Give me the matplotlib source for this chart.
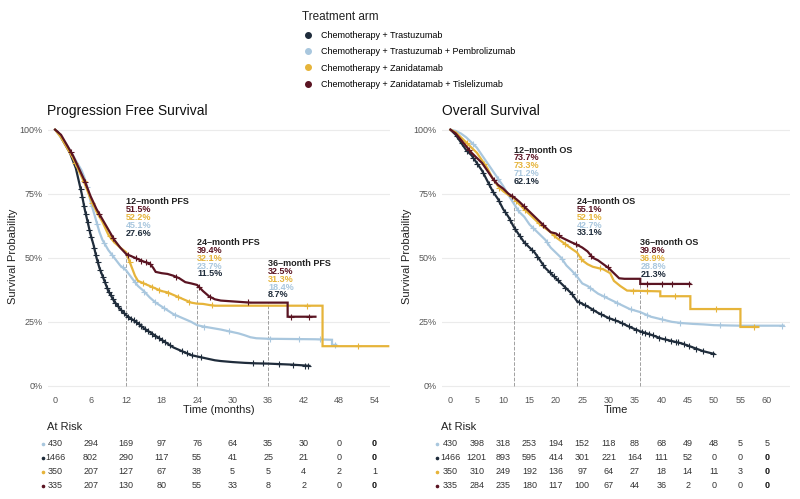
import matplotlib
matplotlib.use("Agg")
import matplotlib.pyplot as plt
from matplotlib.lines import Line2D
from matplotlib.transforms import blended_transform_factory
import numpy as np

plt.rcParams['font.family'] = ['Liberation Sans', 'DejaVu Sans']

# arm names and colours (legend order)
arms = ['Chemotherapy + Trastuzumab',
        'Chemotherapy + Trastuzumab + Pembrolizumab',
        'Chemotherapy + Zanidatamab',
        'Chemotherapy + Zanidatamab + Tislelizumab']
colors = ['#1f2c3b', '#a9c7de', '#e6b43a', '#5a1422']

# ---- PFS curves (months, survival) ----
# repeated times mark a vertical drop after a plateau
pfs_t_tras = [0, 0.5, 1, 1.5, 2, 2.5, 3, 3.5, 4, 4.5, 5, 5.5, 6, 6.5, 7, 7.5, 8, 8.5, 9, 10, 11, 12, 13, 14, 15,
              16, 17, 18, 19, 20, 21, 22, 23, 24, 25, 26, 27, 28, 30, 32, 34, 36, 38, 40, 42, 43]
pfs_s_tras = [1.0, 0.99, 0.97, 0.95, 0.93, 0.91, 0.88, 0.85, 0.80, 0.75, 0.69, 0.64, 0.59, 0.55, 0.50, 0.46, 0.43,
              0.40, 0.37, 0.33, 0.30, 0.276, 0.26, 0.245, 0.225, 0.21, 0.195, 0.18, 0.165, 0.15, 0.14, 0.13, 0.12,
              0.115, 0.11, 0.105, 0.10, 0.097, 0.093, 0.09, 0.088, 0.087, 0.085, 0.083, 0.08, 0.078]
pfs_t_pem = [0, 1, 2, 3, 4, 4.5, 5, 5.5, 6, 6.5, 7, 7.5, 8, 9, 10, 11, 12, 13, 14, 15, 16, 17, 18, 19, 20, 21, 22,
             23, 24, 25, 26, 27, 28, 29, 30, 31, 32, 33, 34, 36, 40, 44, 46.8, 46.8, 47.5]
pfs_s_pem = [1, 0.97, 0.94, 0.90, 0.86, 0.84, 0.81, 0.77, 0.72, 0.68, 0.64, 0.60, 0.57, 0.53, 0.50, 0.47, 0.451,
             0.42, 0.39, 0.37, 0.345, 0.325, 0.31, 0.295, 0.28, 0.27, 0.26, 0.25, 0.237, 0.232, 0.228, 0.224, 0.22,
             0.215, 0.21, 0.205, 0.198, 0.19, 0.186, 0.184, 0.183, 0.182, 0.18, 0.16, 0.16]
pfs_t_zan = [0, 1, 2, 3, 4, 5, 6, 7, 8, 9, 10, 11, 12, 12.5, 13, 13.5, 14, 15, 16, 17, 18, 19, 20, 21, 22, 23, 24,
             25, 26, 27, 45.2, 45.2, 56.3]
pfs_s_zan = [1, 0.97, 0.93, 0.89, 0.84, 0.79, 0.73, 0.68, 0.64, 0.59, 0.56, 0.54, 0.522, 0.49, 0.46, 0.43, 0.41,
             0.40, 0.39, 0.38, 0.37, 0.365, 0.355, 0.345, 0.335, 0.325, 0.321, 0.32, 0.316, 0.313, 0.313, 0.155,
             0.155]
pfs_t_tis = [0, 1, 2, 3, 4, 5, 6, 7, 8, 9, 10, 11, 12, 13, 14, 15, 16, 16.6, 17, 18, 19, 20, 21, 22, 23, 24, 25,
             26, 27, 28, 33, 39.3, 39.3, 44]
pfs_s_tis = [1, 0.98, 0.94, 0.90, 0.85, 0.80, 0.74, 0.69, 0.65, 0.61, 0.57, 0.54, 0.515, 0.505, 0.495, 0.485,
             0.478, 0.46, 0.445, 0.44, 0.437, 0.43, 0.42, 0.405, 0.40, 0.394, 0.37, 0.35, 0.338, 0.333, 0.325,
             0.325, 0.27, 0.27]

# ---- OS curves ----
os_t_tras = [0, 1, 2, 3, 4, 5, 6, 7, 8, 9, 10, 11, 12, 13, 14, 15, 16, 17, 18, 19, 20, 21, 22, 23, 24, 26, 28, 30,
             32, 34, 36, 38, 40, 42, 44, 46, 48, 50]
os_s_tras = [1, 0.98, 0.95, 0.92, 0.90, 0.87, 0.84, 0.80, 0.76, 0.73, 0.69, 0.66, 0.621, 0.59, 0.56, 0.54, 0.52,
             0.49, 0.46, 0.44, 0.42, 0.40, 0.38, 0.36, 0.331, 0.31, 0.285, 0.265, 0.25, 0.23, 0.213, 0.20, 0.185,
             0.175, 0.165, 0.15, 0.135, 0.125]
os_t_pem = [0, 1, 2, 3, 4, 5, 6, 7, 8, 9, 10, 11, 12, 13, 14, 15, 16, 17, 18, 19, 20, 21, 22, 23, 24, 25, 26, 27,
            28, 30, 32, 34, 36, 38, 40, 42, 44, 46, 48, 50, 55, 63.2]
os_s_pem = [1, 0.995, 0.985, 0.97, 0.95, 0.93, 0.90, 0.87, 0.84, 0.81, 0.78, 0.745, 0.712, 0.68, 0.66, 0.63, 0.61,
            0.59, 0.57, 0.54, 0.52, 0.50, 0.47, 0.45, 0.427, 0.40, 0.39, 0.375, 0.36, 0.34, 0.32, 0.30, 0.288, 0.27,
            0.26, 0.25, 0.245, 0.242, 0.24, 0.237, 0.235, 0.235]
os_t_zan = [0, 1, 2, 3, 4, 5, 6, 7, 8, 9, 10, 11, 12, 13, 14, 15, 16, 17, 18, 19, 20, 21, 22, 23, 24, 25, 26, 27,
            28, 29, 30.3, 31, 32.2, 33.5, 39.8, 39.8, 45.5, 45.5, 55, 55, 58.4]
os_s_zan = [1, 0.99, 0.97, 0.95, 0.93, 0.91, 0.88, 0.85, 0.81, 0.78, 0.76, 0.745, 0.733, 0.71, 0.69, 0.67, 0.65,
            0.63, 0.615, 0.60, 0.58, 0.565, 0.55, 0.535, 0.521, 0.49, 0.475, 0.465, 0.46, 0.455, 0.44, 0.41, 0.39,
            0.372, 0.369, 0.35, 0.35, 0.30, 0.30, 0.23, 0.23]
os_t_tis = [0, 1, 2, 3, 4, 5, 6, 7, 8, 9, 10, 11, 12, 13, 14, 15, 16, 17, 18, 19, 20, 21, 22, 23, 24, 25, 26, 27,
            28, 29, 30, 31, 32, 33, 36, 36, 45.5]
os_s_tis = [1, 0.985, 0.96, 0.935, 0.91, 0.89, 0.87, 0.84, 0.81, 0.785, 0.77, 0.75, 0.737, 0.72, 0.70, 0.68, 0.66,
            0.64, 0.62, 0.60, 0.595, 0.58, 0.57, 0.56, 0.551, 0.54, 0.525, 0.50, 0.49, 0.475, 0.46, 0.44, 0.42,
            0.418, 0.418, 0.398, 0.398]

# censoring marks (months)
pfs_cens = [
    [4.3, 4.6, 4.9, 5.2, 5.5, 5.8, 6.1, 6.6, 6.9, 7.2, 7.6, 8.1, 8.4, 8.8, 9.1, 9.4, 9.8, 10.2, 10.6, 11.1, 11.6,
     12.4, 12.9, 13.3, 13.7, 14.1, 14.6, 15.2, 15.7, 16.4, 16.9, 17.5, 18.1, 18.6, 19.4, 21.4, 22.3, 23.1, 24.6,
     33.5, 35.1, 37.9, 40.2, 42.3, 42.8],
    [5.4, 6.2, 7.1, 8.3, 9.6, 11.4, 13.5, 15.1, 16.8, 18.4, 20.2, 25.1, 29.4, 36.4, 41.2, 44.8, 47.3],
    [3.4, 4.8, 6.3, 9.2, 12.6, 14.8, 16.3, 17.6, 19.1, 20.8, 22.7, 26.5, 42.6, 51.2],
    [2.7, 5.1, 7.5, 9.8, 12.3, 13.6, 14.6, 15.3, 16.1, 20.4, 24.3, 26.2, 32.6, 39.8, 42.9],
]
os_cens = [
    [1.2, 2.1, 3.2, 4.3, 5.1, 6.2, 7.3, 8.1, 9.2, 10.4, 11.3, 12.3, 13.2, 14.2, 15.4, 16.5, 17.6, 18.8, 19.6, 20.4,
     21.8, 23.1, 24.4, 25.5, 27.1, 28.6, 30.1, 31.2, 32.6, 33.8, 35.2, 36.3, 36.9, 37.6, 38.4, 39.5, 40.6, 41.8,
     42.7, 43.1, 44.3, 45.2, 46.6, 47.9, 49.8],
    [4.2, 9.1, 12.8, 15.7, 18.3, 21.2, 23.6, 26.4, 29.1, 31.5, 34.2, 37.3, 40.1, 43.5, 51.2, 62.8],
    [3.1, 6.4, 9.3, 12.5, 14.2, 16.8, 19.6, 21.7, 24.8, 28.3, 34.6, 37.2, 42.5, 50.4, 57.6],
    [3.6, 8.3, 11.6, 13.9, 17.6, 20.5, 23.9, 26.7, 29.8, 37.2, 40.2, 42.1, 45.3],
]

# landmark annotations (order: Tislelizumab, Zanidatamab, Pembrolizumab, Trastuzumab)
pfs_marks = {12: [51.5, 52.2, 45.1, 27.6], 24: [39.4, 32.1, 23.7, 11.5], 36: [32.5, 31.3, 18.4, 8.7]}
os_marks = {12: [73.7, 73.3, 71.2, 62.1], 24: [55.1, 52.1, 42.7, 33.1], 36: [39.8, 36.9, 28.8, 21.3]}

# numbers at risk (rows: Pembrolizumab, Trastuzumab, Zanidatamab, Tislelizumab)
pfs_risk_times = [0, 6, 12, 18, 24, 30, 36, 42, 48, 54]
pfs_risk = [[430, 294, 169, 97, 76, 64, 35, 30, 0, 0],
            [1466, 802, 290, 117, 55, 41, 25, 21, 0, 0],
            [350, 207, 127, 67, 38, 5, 5, 4, 2, 1],
            [335, 207, 130, 80, 55, 33, 8, 2, 0, 0]]
os_risk_times = [0, 5, 10, 15, 20, 25, 30, 35, 40, 45, 50, 55, 60]
os_risk = [[430, 398, 318, 253, 194, 152, 118, 88, 68, 49, 48, 5, 5],
           [1466, 1201, 893, 595, 414, 301, 221, 164, 111, 52, 0, 0, 0],
           [350, 310, 249, 192, 136, 97, 64, 27, 18, 14, 11, 3, 0],
           [335, 284, 235, 180, 117, 100, 67, 44, 36, 2, 0, 0, 0]]
risk_colors = [colors[1], colors[0], colors[2], colors[3]]
pfs_bold_last = [True, True, False, True]
os_bold_last = [False, True, True, True]

W, H = 800, 499
fig = plt.figure(figsize=(W / 100, H / 100), dpi=100)


def px_box(x0, y0, x1, y1):
    return [x0 / W, 1 - y1 / H, (x1 - x0) / W, (y1 - y0) / H]


def draw_panel(ax, curves, cens, marks, label, title, xlim, xticks, xlabel):
    for (t, s), c, ct in zip(curves, colors, cens):
        ax.plot(t, s, color=c, lw=1.6, zorder=3, solid_joinstyle='miter')
        ct = np.array(ct)
        ax.plot(ct, np.interp(ct, t, s), ls='none', marker='+', ms=5, mew=0.8, color=c, zorder=3)
    mark_cols = [colors[3], colors[2], colors[1], colors[0]]
    for m, vals in marks.items():
        top = max(vals) / 100
        ax.plot([m, m], [0, top], ls='--', color='#a0a0a0', lw=0.7, zorder=2)
    for (m, vals), ypos in zip(marks.items(), label):
        ax.text(m, ypos, f'{m}\u2013month {title}', fontsize=6.5, fontweight='bold', color='#222222',
                ha='left', va='center', zorder=5)
        for k, (v, c) in enumerate(zip(vals, mark_cols)):
            ax.annotate(f'{v:.1f}%', (m, ypos), xytext=(0, -5.6 * (k + 1)), textcoords='offset points',
                        fontsize=6.5, fontweight='bold', color=c, ha='left', va='center', zorder=5)
    ax.set_xlim(*xlim)
    ax.set_ylim(-0.016, 1.03)
    ax.set_yticks([0, 0.25, 0.5, 0.75, 1.0])
    ax.set_yticklabels(['0%', '25%', '50%', '75%', '100%'])
    ax.set_xticks(xticks)
    ax.grid(axis='y', color='#ebebeb', lw=0.8)
    ax.grid(axis='x', visible=False)
    for sp in ax.spines.values():
        sp.set_visible(False)
    ax.tick_params(length=0, labelsize=6.5, labelcolor='#555555', pad=4)
    ax.set_ylabel('Survival Probability', fontsize=8, color='#222222', labelpad=1)
    ax.set_xlabel(xlabel, fontsize=8, color='#222222', labelpad=0)
    ax.set_axisbelow(True)


ax1 = fig.add_axes(px_box(48, 122, 390, 390))
ax2 = fig.add_axes(px_box(442, 122, 790, 390))

pfs_curves = [(pfs_t_tras, pfs_s_tras), (pfs_t_pem, pfs_s_pem), (pfs_t_zan, pfs_s_zan), (pfs_t_tis, pfs_s_tis)]
os_curves = [(os_t_tras, os_s_tras), (os_t_pem, os_s_pem), (os_t_zan, os_s_zan), (os_t_tis, os_s_tis)]

draw_panel(ax1, pfs_curves, pfs_cens, pfs_marks, [0.718, 0.559, 0.477], 'PFS', (-1.2, 56.6),
           pfs_risk_times, 'Time (months)')
draw_panel(ax2, os_curves, os_cens, os_marks, [0.92, 0.719, 0.558], 'OS', (-1.6, 64.4),
           os_risk_times, 'Time')

fig.text(47 / W, 1 - 111 / H, 'Progression Free Survival', fontsize=10, color='#111111', va='center')
fig.text(442 / W, 1 - 111 / H, 'Overall Survival', fontsize=10, color='#111111', va='center')

# risk tables
row_y = [443.5, 457.5, 471.5, 485.5]
for ax, times, table, bold, x0 in [(ax1, pfs_risk_times, pfs_risk, pfs_bold_last, 47),
                                   (ax2, os_risk_times, os_risk, os_bold_last, 441)]:
    fig.text(x0 / W, 1 - 427 / H, 'At Risk', fontsize=8, color='#222222', va='center')
    tr = blended_transform_factory(ax.transData, fig.transFigure)
    for r, (row, yy, c) in enumerate(zip(table, row_y, risk_colors)):
        fig.add_artist(Line2D([(x0 - 4) / W], [1 - yy / H], marker='o', ms=1.6, color=c, ls='none',
                              transform=fig.transFigure))
        for k, (t, n) in enumerate(zip(times, row)):
            is_bold = bold[r] and k == len(row) - 1
            fig.text(t, 1 - yy / H, str(n), transform=tr, fontsize=6.5, ha='center', va='center',
                     color='#111111' if is_bold else '#333333', fontweight='bold' if is_bold else 'normal')

# legend
handles = [Line2D([], [], marker='o', ls='none', color=c, ms=4) for c in colors]
leg = fig.legend(handles, arms, loc='upper left', bbox_to_anchor=(296 / W, 1 - 5 / H), frameon=False,
                 title='Treatment arm', fontsize=6.5, title_fontsize=8.5, alignment='left',
                 labelspacing=0.82, handletextpad=0.9, handlelength=1.2, borderaxespad=0.3)
leg.get_title().set_color('#222222')

fig.savefig('out.png', dpi=100)
